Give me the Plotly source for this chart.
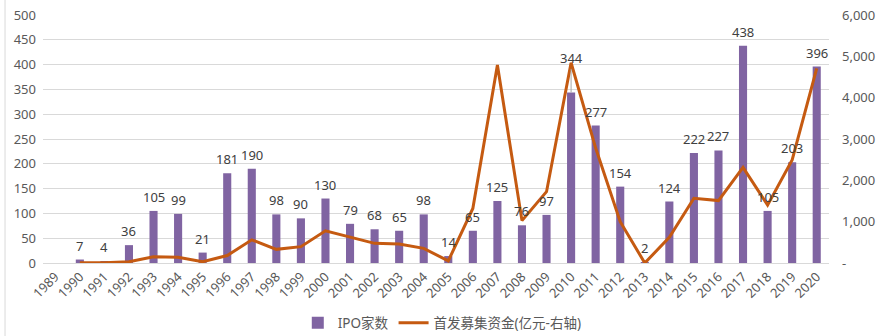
import plotly.graph_objects as go

# Years on the category axis
years = [str(y) for y in range(1989, 2021)]

# Number of IPOs per year (left axis)
ipo_count = [None, 7, 4, 36, 105, 99, 21, 181, 190, 98, 90, 130, 79, 68, 65, 98,
             14, 65, 125, 76, 97, 344, 277, 154, 2, 124, 222, 227, 438, 105, 203, 396]

# IPO proceeds, 100 million yuan (right axis)
ipo_funds = [None, 5, 5, 30, 150, 140, 30, 180, 560, 330, 395, 780, 620, 475, 460, 355,
             50, 1320, 4790, 1025, 1725, 4845, 2780, 1000, 0, 620, 1565, 1510, 2315, 1400, 2495, 4710]

# Right-axis tick labels (accounting style, zero shown as a dash)
right_tickvals = [0, 1000, 2000, 3000, 4000, 5000, 6000]
right_ticktext = ["-", "1,000", "2,000", "3,000", "4,000", "5,000", "6,000"]

BAR_COLOR = "#8064A2"
LINE_COLOR = "#C55A11"
TEXT_COLOR = "#595959"
GRID_COLOR = "#D9D9D9"
FONT = "Noto Sans, Noto Sans CJK SC, sans-serif"

fig = go.Figure()

fig.add_trace(go.Bar(
    x=years, y=ipo_count, name="IPO家数",
    marker=dict(color=BAR_COLOR, line=dict(width=0)),
    yaxis="y",
))

fig.add_trace(go.Scatter(
    x=years, y=ipo_funds, name="首发募集资金(亿元-右轴)",
    mode="lines", line=dict(color=LINE_COLOR, width=3),
    yaxis="y2",
))

# Value labels above the bars (x given as category index)
annotations = []
for i, (yr, v) in enumerate(zip(years, ipo_count)):
    if v is None:
        continue
    if yr == "2010":
        # lifted above the proceeds line with a leader line
        annotations.append(dict(
            x=i, y=v, xref="x", yref="y", text=str(v),
            showarrow=True, arrowhead=0, arrowwidth=1, arrowcolor="#A6A6A6",
            ax=0, ay=-34, standoff=0,
            font=dict(family=FONT, size=13, color="#404040"),
        ))
    else:
        annotations.append(dict(
            x=i, y=v, xref="x", yref="y", text=str(v),
            showarrow=False, yanchor="bottom", yshift=3,
            font=dict(family=FONT, size=13, color="#404040"),
        ))

fig.update_layout(
    width=894, height=336, autosize=False,
    margin=dict(l=43, r=65, t=15, b=73, autoexpand=False),
    paper_bgcolor="white", plot_bgcolor="white",
    font=dict(family=FONT, size=12, color=TEXT_COLOR),
    bargap=0.67,
    showlegend=True,
    legend=dict(
        orientation="h", x=0.508, xanchor="center", y=-0.242, yanchor="middle",
        font=dict(family=FONT, size=13.5, color=TEXT_COLOR),
        itemwidth=30, tracegroupgap=0,
    ),
    xaxis=dict(
        type="category", tickangle=-45, showgrid=False, automargin=False,
        range=[-0.5, len(years) - 0.5],
        showline=True, linecolor=GRID_COLOR, linewidth=1,
        ticks="", tickfont=dict(family=FONT, size=13, color=TEXT_COLOR),
    ),
    yaxis=dict(
        range=[0, 500], dtick=50, showgrid=True, gridcolor=GRID_COLOR, gridwidth=1,
        zeroline=False, showline=False, ticks="", automargin=False,
        tickfont=dict(family=FONT, size=13, color=TEXT_COLOR),
        ticklabelstandoff=6,
    ),
    yaxis2=dict(
        overlaying="y", side="right", range=[0, 6000],
        tickvals=right_tickvals, ticktext=right_ticktext, automargin=False,
        showgrid=False, zeroline=False, showline=False, ticks="",
        tickfont=dict(family=FONT, size=13, color=TEXT_COLOR),
        ticklabelstandoff=12,
    ),
    annotations=annotations,
    shapes=[dict(
        type="line", xref="paper", yref="paper",
        x0=-0.0483, x1=-0.0483, y0=-0.3, y1=1.07,
        line=dict(color=GRID_COLOR, width=1),
    )],
)

fig.write_html("out.html")
